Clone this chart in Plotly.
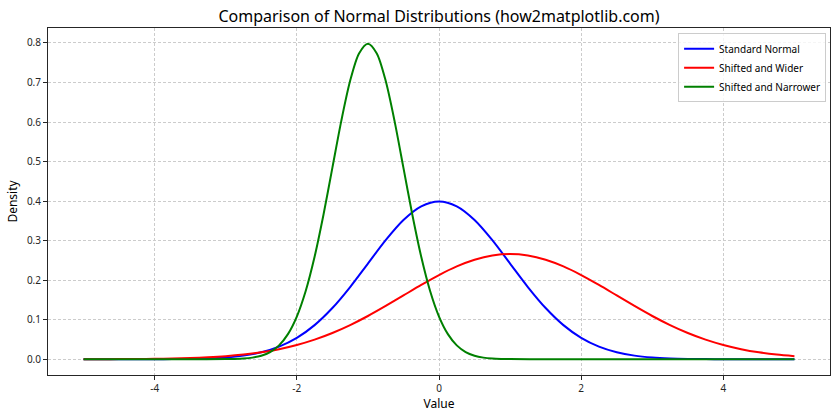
import plotly.graph_objects as go

# Standard Normal (mean 0, sd 1)
x_std = [-5.0, -4.75, -4.5, -4.25, -4.0, -3.75, -3.5, -3.25, -3.0, -2.75, -2.5, -2.25, -2.0, -1.75, -1.5, -1.25, -1.0, -0.75, -0.5, -0.25,
         0.0, 0.25, 0.5, 0.75, 1.0, 1.25, 1.5, 1.75, 2.0, 2.25, 2.5, 2.75, 3.0, 3.25, 3.5, 3.75, 4.0, 4.25, 4.5, 4.75, 5.0]
y_std = [0.0000015, 0.000005, 0.00002, 0.00005, 0.00013, 0.00035, 0.00087, 0.00203, 0.00443, 0.00909, 0.01753, 0.03174, 0.05399,
         0.08628, 0.12952, 0.18265, 0.24197, 0.30114, 0.35207, 0.38667, 0.39894, 0.38667, 0.35207, 0.30114, 0.24197, 0.18265,
         0.12952, 0.08628, 0.05399, 0.03174, 0.01753, 0.00909, 0.00443, 0.00203, 0.00087, 0.00035, 0.00013, 0.00005, 0.00002,
         0.000005, 0.0000015]

# Shifted and Wider (mean 1, sd 1.5)
x_wide = x_std
y_wide = [0.00009, 0.00017, 0.00032, 0.00058, 0.00103, 0.00177, 0.00295, 0.00481, 0.00760, 0.01169, 0.01748, 0.02543, 0.03599,
          0.04954, 0.06632, 0.08634, 0.10934, 0.13467, 0.16131, 0.18794, 0.21296, 0.23471, 0.25159, 0.26229, 0.26596, 0.26229,
          0.25159, 0.23471, 0.21296, 0.18794, 0.16131, 0.13467, 0.10934, 0.08634, 0.06632, 0.04954, 0.03599, 0.02543, 0.01748,
          0.01169, 0.00760]

# Shifted and Narrower (mean -1, sd 0.5)
x_narrow = [-5.0, -4.0, -3.5, -3.0, -2.875, -2.75, -2.625, -2.5, -2.375, -2.25, -2.125, -2.0, -1.875, -1.75, -1.625, -1.5, -1.375,
            -1.25, -1.125, -1.0, -0.875, -0.75, -0.625, -0.5, -0.375, -0.25, -0.125, 0.0, 0.125, 0.25, 0.375, 0.5, 0.625, 0.75,
            0.875, 1.0, 1.5, 2.0, 3.0, 4.0, 5.0]
y_narrow = [0.0, 0.0, 0.000002, 0.00027, 0.00070, 0.00174, 0.00406, 0.00886, 0.01818, 0.03506, 0.06348, 0.10798, 0.17256, 0.25904,
            0.36530, 0.48394, 0.60227, 0.70413, 0.77334, 0.79788, 0.77334, 0.70413, 0.60227, 0.48394, 0.36530, 0.25904, 0.17256,
            0.10798, 0.06348, 0.03506, 0.01818, 0.00886, 0.00406, 0.00174, 0.00070, 0.00027, 0.000002, 0.0, 0.0, 0.0, 0.0]

names = ["Standard Normal", "Shifted and Wider", "Shifted and Narrower"]
colors = ["#0000ff", "#ff0000", "#008000"]

x_ticks = [-4, -2, 0, 2, 4]
y_ticks = [0.0, 0.1, 0.2, 0.3, 0.4, 0.5, 0.6, 0.7, 0.8]
y_tick_labels = ["0.0", "0.1", "0.2", "0.3", "0.4", "0.5", "0.6", "0.7", "0.8"]

FONT = "Noto Sans"

fig = go.Figure()
for xs, ys, nm, c in zip([x_std, x_wide, x_narrow], [y_std, y_wide, y_narrow], names, colors):
    fig.add_trace(go.Scatter(x=xs, y=ys, mode="lines", name=nm,
                             line=dict(color=c, width=2, shape="spline", smoothing=0.8)))

axis_common = dict(
    showline=True, linecolor="#262626", linewidth=1, mirror=True,
    ticks="outside", ticklen=4, tickwidth=1, tickcolor="#262626",
    showgrid=True, gridcolor="#cccccc", griddash="3px,2px", gridwidth=1,
    zeroline=False, tickfont=dict(family=FONT, size=10, color="#262626"),
    automargin=False,
)

fig.update_layout(
    width=840, height=420,
    margin=dict(l=48, r=10, t=28, b=45),
    paper_bgcolor="white", plot_bgcolor="white",
    title=dict(text="Comparison of Normal Distributions (how2matplotlib.com)",
               x=0.5, xanchor="center", xref="paper", y=0.975, yanchor="top",
               font=dict(family=FONT, size=16, color="black")),
    xaxis=dict(range=[-5.5, 5.5], tickvals=x_ticks, ticktext=[str(v) for v in x_ticks],
               title=dict(text="Value", font=dict(family=FONT, size=12, color="black"), standoff=4),
               **axis_common),
    yaxis=dict(range=[-0.0399, 0.8378], tickvals=y_ticks, ticktext=y_tick_labels,
               title=dict(text="Density", font=dict(family=FONT, size=12, color="black"), standoff=6),
               **axis_common),
    legend=dict(x=0.995, y=0.985, xanchor="right", yanchor="top",
                bgcolor="rgba(255,255,255,0.8)", bordercolor="#cccccc", borderwidth=1,
                font=dict(family=FONT, size=10, color="black"), tracegroupgap=0,
                itemwidth=30),
    showlegend=True,
)

fig.write_html("out.html", config={"displayModeBar": False},
               post_script="document.body.style.margin='0';document.body.style.overflow='hidden';")
